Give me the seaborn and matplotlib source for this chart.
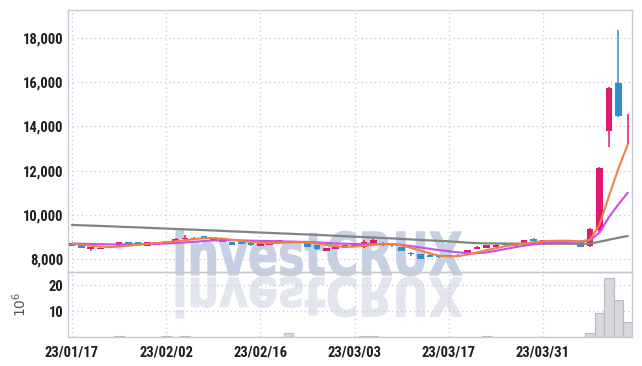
import numpy as np
import pandas as pd
import matplotlib
matplotlib.use("Agg")
import matplotlib.pyplot as plt
import seaborn as sns
from matplotlib.textpath import TextPath
from matplotlib.patches import PathPatch
from matplotlib.font_manager import FontProperties
from matplotlib.transforms import Affine2D

# trading days (KRX, Jan 17 - Apr 13 2023)
holidays = ["2023-01-23", "2023-01-24", "2023-03-01"]
dates = pd.date_range("2023-01-17", "2023-04-13", freq=pd.offsets.CustomBusinessDay(holidays=holidays))

opens = [8720, 8630, 8470, 8470, 8530, 8560, 8770, 8770, 8590, 8770,
         8690, 8740, 8910, 8920, 9040, 8880, 8950, 8770, 8770, 8740,
         8590, 8620, 8740, 8800, 8780, 8740, 8620, 8380, 8470, 8500,
         8650, 8560, 8740, 8690, 8630, 8530, 8250, 8230, 8200, 8120,
         8150, 8200, 8170, 8440, 8500, 8560, 8680, 8590, 8680, 8920,
         8740, 8790, 8740, 8800, 8770, 8600, 9300, 13800, 15950, 14100]
closes = [8590, 8510, 8540, 8500, 8500, 8770, 8680, 8680, 8770, 8650,
          8800, 8920, 8930, 8960, 8930, 8990, 8780, 8650, 8680, 8620,
          8740, 8800, 8845, 8780, 8760, 8560, 8440, 8500, 8560, 8620,
          8560, 8770, 8845, 8670, 8610, 8380, 8230, 7990, 8100, 8100,
          8130, 8100, 8400, 8560, 8620, 8650, 8620, 8710, 8860, 8830,
          8860, 8810, 8860, 8780, 8560, 9357, 12130, 15720, 14460, 14130]
highs = [8740, 8650, 8560, 8520, 8550, 8790, 8790, 8790, 8790, 8780,
         8820, 8950, 9100, 9000, 9060, 9000, 8960, 8780, 8780, 8750,
         8750, 8810, 8860, 8820, 8800, 8750, 8630, 8510, 8570, 8630,
         8660, 8850, 8930, 8770, 8680, 8540, 8330, 8240, 8210, 8160,
         8180, 8210, 8420, 8580, 8640, 8670, 8700, 8730, 8870, 8930,
         8870, 8850, 8880, 8840, 8780, 9420, 12150, 15780, 18380, 14550]
lows = [8570, 8490, 8380, 8450, 8480, 8550, 8660, 8670, 8580, 8640,
        8680, 8730, 8810, 8900, 8920, 8870, 8770, 8630, 8670, 8600,
        8580, 8610, 8730, 8760, 8740, 8540, 8420, 8370, 8460, 8490,
        8550, 8480, 8700, 8600, 8560, 8370, 8150, 7980, 8090, 8060,
        8100, 8080, 8160, 8430, 8490, 8550, 8610, 8580, 8670, 8820,
        8730, 8760, 8730, 8760, 8540, 8520, 9200, 13080, 14410, 13200]

ma5 = [8680, 8650, 8600, 8560, 8540, 8560, 8600, 8640, 8680, 8720,
       8760, 8800, 8850, 8900, 8940, 8950, 8920, 8870, 8820, 8770,
       8730, 8720, 8730, 8750, 8760, 8740, 8700, 8640, 8580, 8550,
       8560, 8600, 8640, 8680, 8680, 8620, 8500, 8380, 8250, 8150,
       8110, 8130, 8200, 8290, 8400, 8490, 8580, 8640, 8700, 8760,
       8800, 8820, 8830, 8820, 8800, 8870, 9550, 10840, 12080, 13180]
ma10 = [8700, 8690, 8680, 8670, 8660, 8660, 8660, 8670, 8680, 8690,
        8700, 8720, 8750, 8780, 8810, 8840, 8850, 8850, 8840, 8830,
        8820, 8810, 8800, 8790, 8780, 8770, 8750, 8730, 8700, 8690,
        8680, 8670, 8670, 8670, 8660, 8640, 8580, 8520, 8460, 8400,
        8350, 8300, 8260, 8260, 8300, 8370, 8450, 8530, 8600, 8660,
        8700, 8730, 8760, 8780, 8790, 8850, 9190, 9890, 10470, 11000]
ma60 = [9540, 9525, 9510, 9495, 9480, 9460, 9445, 9430, 9410, 9395,
        9375, 9360, 9340, 9325, 9305, 9290, 9270, 9250, 9235, 9215,
        9195, 9180, 9160, 9145, 9125, 9110, 9090, 9070, 9050, 9030,
        9010, 8990, 8970, 8950, 8930, 8905, 8885, 8860, 8840, 8820,
        8800, 8770, 8740, 8715, 8705, 8700, 8700, 8695, 8695, 8690,
        8690, 8690, 8690, 8690, 8690, 8700, 8780, 8870, 8960, 9040]

# volume in millions
volume = [0.08, 0.06, 0.05, 0.05, 0.06, 0.25, 0.07, 0.06, 0.08, 0.07,
          0.25, 0.08, 0.25, 0.07, 0.06, 0.06, 0.05, 0.05, 0.06, 0.05,
          0.06, 0.07, 0.08, 1.5, 0.07, 0.06, 0.15, 0.06, 0.05, 0.06,
          0.06, 0.25, 0.25, 0.06, 0.05, 0.06, 0.08, 0.1, 0.07, 0.06,
          0.06, 0.05, 0.07, 0.06, 0.25, 0.06, 0.05, 0.06, 0.05, 0.06,
          0.06, 0.05, 0.06, 0.06, 0.1, 1.4, 9.2, 22.7, 14.2, 5.8]

price_ticks = [8000, 10000, 12000, 14000, 16000, 18000]
vol_ticks = [10, 20]
tick_step = 10

df = pd.DataFrame({"idx": np.arange(len(dates)), "open": opens, "close": closes,
                   "high": highs, "low": lows, "ma5": ma5, "ma10": ma10,
                   "ma60": ma60, "volume": volume})

UP = "#e2186e"
DOWN = "#2f8fcf"
GRID = "#c3c9de"
SPINE = "#c9c9d6"

sns.set_theme(style="white")
plt.rcParams["font.family"] = ["Roboto Condensed", "DejaVu Sans"]
plt.rcParams["mathtext.fontset"] = "dejavusans"

fig = plt.figure(figsize=(6.42, 3.66), dpi=100)
fig.patch.set_facecolor("white")
ax = fig.add_axes([0.1059, 0.2568, 0.8785, 0.7159])
axv = fig.add_axes([0.1059, 0.0792, 0.8785, 0.1776], sharex=ax)
for a in (ax, axv):
    a.set_facecolor("none")
    for s in a.spines.values():
        s.set_color(SPINE)
        s.set_linewidth(1.0)
    a.grid(True, linestyle=(0, (1, 2.5)), color=GRID, linewidth=0.9)
    a.tick_params(length=0, labelsize=10.5, labelcolor="#1e1e1e")

# watermark
wm_font = FontProperties(family="DejaVu Sans", weight="bold")
tp = TextPath((0, 0), "investCRUX", size=10, prop=wm_font)
ext = tp.get_extents()
W, H = 642, 366
x0, x1 = 176, 462
sx = (x1 - x0) / ext.width
top, base = 230, 276
sy = (base - top) / ext.height
tr = Affine2D().translate(-ext.x0, -ext.y0).scale(sx / 100, sy / 100).translate(x0 / 100, (H - base) / 100) + fig.dpi_scale_trans
ax.add_patch(PathPatch(tp, transform=tr, facecolor="#c7cfe3", edgecolor="#c7cfe3", linewidth=0.8, zorder=0.5, clip_on=False))
rbase, rbot = 277, 318
sy2 = (rbot - rbase) / ext.height
tr2 = Affine2D().translate(-ext.x0, -ext.y0).scale(sx / 100, -sy2 / 100).translate(x0 / 100, (H - rbase) / 100) + fig.dpi_scale_trans
axv.add_patch(PathPatch(tp, transform=tr2, facecolor="#e3e6ef", edgecolor="#e3e6ef", linewidth=0.8, zorder=0.5, clip_on=False))

# candles
up = df["close"] >= df["open"]
colors = np.where(up, UP, DOWN)
body_lo = np.minimum(df["open"], df["close"])
body_h = np.maximum(np.abs(df["close"] - df["open"]), 30)
ax.vlines(df["idx"], df["low"], df["high"], colors=colors, linewidth=1.1, zorder=2)
ax.bar(df["idx"], body_h, bottom=body_lo, width=0.7, color=colors, linewidth=0, zorder=3)

# moving averages
sns.lineplot(data=df, x="idx", y="ma60", ax=ax, color="#838383", linewidth=1.6, zorder=4)
sns.lineplot(data=df, x="idx", y="ma10", ax=ax, color="#c94fe6", linewidth=1.5, zorder=4)
sns.lineplot(data=df, x="idx", y="ma5", ax=ax, color="#ef8144", linewidth=1.5, zorder=5)

ax.set_ylim(7410, 19270)
ax.set_yticks(price_ticks)
ax.set_yticklabels([f"{v:,}" for v in price_ticks], fontweight="bold")
ax.set_xlim(-0.42, 59.45)
ax.set_xlabel("")
ax.set_ylabel("")
ax.tick_params(axis="x", labelbottom=False)

# volume
axv.bar(df["idx"], df["volume"], width=1.0, color="#d7d7de", edgecolor="#b9b9c3", linewidth=0.8, zorder=2)
axv.set_ylim(0, 25)
axv.set_yticks(vol_ticks)
axv.set_yticklabels([str(v) for v in vol_ticks], fontweight="bold")
axv.set_ylabel("$10^{6}$", fontsize=10, color="#555555", labelpad=14)
xt = list(range(0, len(dates), tick_step))
axv.set_xticks(xt)
axv.set_xticklabels([dates[i].strftime("%y/%m/%d") for i in xt], fontweight="bold")
axv.tick_params(axis="x", pad=6)

fig.savefig("out.png", dpi=100, facecolor="white")
